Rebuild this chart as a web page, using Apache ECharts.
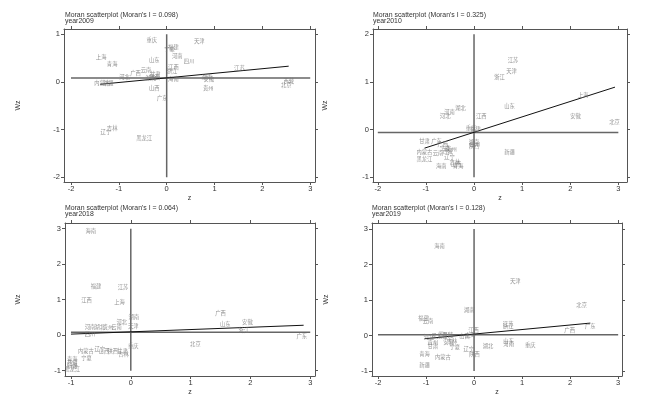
<!DOCTYPE html>
<html><head><meta charset="utf-8">
<script src="https://cdn.jsdelivr.net/npm/echarts@6/dist/echarts.min.js"></script>
<style>html,body{margin:0;padding:0;background:#fff}#c{width:650px;height:413px}</style>
</head><body><div id="c"></div>
<script>
// ---- 2009 ----
const names2009 = ["重庆","天津","福建","宁夏","河南","四川","山东","上海","青海","江西","云南","浙江","广西","河北","甘肃","湖北","陕西","海南","内蒙古","新疆","江苏","湖南","安徽","贵州","西藏","北京","山西","广东","吉林","辽宁","黑龙江"];
const z2009  = [-0.31,0.68,0.14,0.06,0.22,0.47,-0.26,-1.37,-1.14,0.14,-0.43,0.11,-0.65,-0.88,-0.24,-0.33,-0.25,0.14,-1.35,-1.22,1.52,0.84,0.88,0.87,2.55,2.50,-0.26,-0.09,-1.14,-1.27,-0.47];
const wz2009 = [0.88,0.85,0.73,0.69,0.55,0.44,0.46,0.52,0.38,0.31,0.25,0.22,0.18,0.11,0.17,0.08,0.10,0.06,-0.02,-0.02,0.29,0.10,0.07,-0.12,0.02,-0.06,-0.13,-0.34,-0.97,-1.06,-1.18];
const mean2009 = 0.08;
const reg2009 = [[-1.39,-0.05],[2.55,0.33]];

// ---- 2010 ----
const names2010 = ["江苏","天津","浙江","上海","山东","安徽","北京","湖北","河南","河北","江西","重庆","福建","湖南","四川","陕西","新疆","甘肃","广东","广西","内蒙古","云南","宁夏","贵州","黑龙江","辽宁","海南","吉林","青海","山西","西藏"];
const z2010  = [0.81,0.78,0.53,2.27,0.74,2.11,2.92,-0.28,-0.51,-0.60,0.15,-0.06,0.03,0.00,0.02,0.00,0.74,-1.03,-0.78,-0.65,-1.03,-0.75,-0.61,-0.47,-1.03,-0.51,-0.68,-0.40,-0.33,-0.38,-0.55];
const wz2010 = [1.46,1.23,1.10,0.73,0.50,0.29,0.15,0.46,0.36,0.29,0.29,0.03,0.01,-0.26,-0.31,-0.35,-0.47,-0.25,-0.24,-0.30,-0.48,-0.50,-0.39,-0.41,-0.62,-0.58,-0.76,-0.69,-0.76,-0.72,-0.45];
const mean2010 = -0.06;
const reg2010 = [[-1.03,-0.39],[2.93,0.89]];

// ---- 2018 ----
const names2018 = ["海南","福建","江苏","江西","上海","湖南","河北","天津","河南","湖北","贵州","云南","广西","山东","安徽","浙江","广东","北京","重庆","内蒙古","辽宁","山西","陕西","甘肃","吉林","宁夏","青海","西藏","新疆","黑龙江","四川"];
const z2018  = [-0.67,-0.58,-0.13,-0.74,-0.19,0.05,-0.15,0.04,-0.68,-0.52,-0.38,-0.24,1.50,1.58,1.95,1.89,2.86,1.08,0.04,-0.75,-0.52,-0.45,-0.30,-0.14,-0.12,-0.74,-0.98,-0.98,-0.98,-0.98,-0.68];
const wz2018 = [2.94,1.39,1.37,0.99,0.94,0.50,0.36,0.26,0.22,0.22,0.22,0.22,0.63,0.31,0.37,0.14,-0.01,-0.26,-0.31,-0.45,-0.38,-0.44,-0.44,-0.44,-0.53,-0.63,-0.68,-0.78,-0.88,-0.96,0.04];
const mean2018 = 0.08;
const reg2018 = [[-1.0,0.03],[2.89,0.28]];

// ---- 2019 ----
const names2019 = ["海南","天津","北京","湖南","福建","云南","江苏","浙江","广东","广西","江西","上海","河北","四川","山东","河南","湖北","重庆","贵州","甘肃","安徽","吉林","宁夏","辽宁","陕西","青海","内蒙古","新疆","山西","西藏","黑龙江"];
const z2019  = [-0.72,0.86,2.24,-0.10,-1.05,-0.96,0.71,0.71,2.42,1.99,-0.01,-0.08,-0.94,-0.63,0.72,0.72,0.29,1.17,-0.86,-0.86,-0.53,-0.46,-0.40,-0.11,0.01,-1.03,-0.65,-1.03,-0.20,-0.55,-0.72];
const wz2019 = [2.51,1.54,0.85,0.72,0.50,0.41,0.33,0.27,0.26,0.15,0.15,0.02,-0.03,0.04,-0.15,-0.25,-0.30,-0.28,-0.18,-0.30,-0.18,-0.14,-0.31,-0.37,-0.52,-0.53,-0.61,-0.82,0.00,0.02,0.00];
const mean2019 = 0.02;
const reg2019 = [[-1.03,-0.09],[2.42,0.35]];

// tick labels
const xTicksA = [-2,-1,0,1,2,3];
const xTicksB = [-1,0,1,2,3];
const yTicks2009 = [-2,-1,0,1];
const yTicks2010 = [-1,0,1,2];
const yTicksB = [-1,0,1,2,3];

const titles = ["Moran scatterplot (Moran's I = 0.098)\nyear2009","Moran scatterplot (Moran's I = 0.325)\nyear2010","Moran scatterplot (Moran's I = 0.064)\nyear2018","Moran scatterplot (Moran's I = 0.128)\nyear2019"];

const panels = [
  {names:names2009,z:z2009,wz:wz2009,mean:mean2009,reg:reg2009,xt:xTicksA,yt:yTicks2009,
   grid:{left:64,top:29,width:251,height:153},xr:[-2.146,3.10],yr:[-2.10,1.11],tl:65,tt:11.5,ylab:42},
  {names:names2010,z:z2010,wz:wz2010,mean:mean2010,reg:reg2010,xt:xTicksA,yt:yTicks2010,
   grid:{left:373,top:29,width:254,height:153},xr:[-2.10,3.18],yr:[-1.10,2.11],tl:373,tt:11.5,ylab:44},
  {names:names2018,z:z2018,wz:wz2018,mean:mean2018,reg:reg2018,xt:xTicksB,yt:yTicksB,
   grid:{left:65,top:223,width:250,height:153},xr:[-1.10,3.08],yr:[-1.15,3.16],tl:65,tt:204.5,ylab:43},
  {names:names2019,z:z2019,wz:wz2019,mean:mean2019,reg:reg2019,xt:xTicksA,yt:yTicksB,
   grid:{left:372,top:223,width:250,height:153},xr:[-2.125,3.08],yr:[-1.14,3.17],tl:372,tt:204.5,ylab:42}
];

const axisCol = '#555';
const option = {animation:false, backgroundColor:'#fff', grid:[], xAxis:[], yAxis:[], series:[], title:[]};
panels.forEach((p,i)=>{
  option.grid.push(Object.assign({containLabel:false},p.grid));
  option.title.push({text:titles[i], left:p.tl, top:p.tt, padding:0,
    textStyle:{fontSize:6.9, lineHeight:6.6, fontWeight:'normal', color:'#333', fontFamily:'Liberation Sans'}});
  const xb = {type:'value', gridIndex:i, min:p.xr[0], max:p.xr[1], position:'bottom',
    axisLine:{show:true,onZero:false,lineStyle:{color:axisCol,width:1}},
    axisTick:{show:true,customValues:p.xt,length:3,lineStyle:{color:axisCol}},
    axisLabel:{show:true,customValues:p.xt,fontSize:7.5,color:'#333',margin:3,fontFamily:'Liberation Sans'},
    splitLine:{show:false}, name:'z', nameLocation:'middle', nameGap:13,
    nameTextStyle:{fontSize:7,color:'#333',fontFamily:'Liberation Sans'}};
  const xt = {type:'value', gridIndex:i, min:p.xr[0], max:p.xr[1], position:'top',
    axisLine:{show:true,onZero:false,lineStyle:{color:axisCol,width:1}},
    axisTick:{show:true,customValues:p.xt,length:3,lineStyle:{color:axisCol}},
    axisLabel:{show:false,customValues:p.xt}, splitLine:{show:false}};
  const yl = {type:'value', gridIndex:i, min:p.yr[0], max:p.yr[1], position:'left',
    axisLine:{show:true,onZero:false,lineStyle:{color:axisCol,width:1}},
    axisTick:{show:true,customValues:p.yt,length:3,lineStyle:{color:axisCol}},
    axisLabel:{show:true,customValues:p.yt,fontSize:7.5,color:'#333',margin:4,fontFamily:'Liberation Sans'},
    splitLine:{show:false}, name:'Wz', nameLocation:'middle', nameGap:p.ylab,
    nameTextStyle:{fontSize:7,color:'#333',fontFamily:'Liberation Sans'}};
  const yr = {type:'value', gridIndex:i, min:p.yr[0], max:p.yr[1], position:'right',
    axisLine:{show:true,onZero:false,lineStyle:{color:axisCol,width:1}},
    axisTick:{show:true,customValues:p.yt,length:3,lineStyle:{color:axisCol}},
    axisLabel:{show:false,customValues:p.yt}, splitLine:{show:false}};
  option.xAxis.push(xb, xt);
  option.yAxis.push(yl, yr);
  const xi = 2*i, yi = 2*i;
  const xt0 = p.xt[0], xt1 = p.xt[p.xt.length-1];
  const yt0 = p.yt[0], yt1 = p.yt[p.yt.length-1];
  option.series.push({type:'line', xAxisIndex:xi, yAxisIndex:yi, silent:true, symbol:'none',
    data:[[xt0,p.mean],[xt1,p.mean]], lineStyle:{color:'#666',width:1.5}, z:1});
  option.series.push({type:'line', xAxisIndex:xi, yAxisIndex:yi, silent:true, symbol:'none',
    data:[[0,yt0],[0,yt1]], lineStyle:{color:'#666',width:1.5}, z:1});
  option.series.push({type:'line', xAxisIndex:xi, yAxisIndex:yi, silent:true, symbol:'none',
    data:p.reg, lineStyle:{color:'#111',width:1}, z:2});
  option.series.push({type:'scatter', xAxisIndex:xi, yAxisIndex:yi, silent:true,
    symbolSize:1, itemStyle:{color:'rgba(0,0,0,0)'},
    data:p.names.map((n,k)=>({name:n, value:[p.z[k],p.wz[k]]})),
    label:{show:true, position:'inside', formatter:'{b}', fontSize:5.3, color:'#777',
      fontFamily:'Noto Sans CJK SC'}, z:3});
});
const chart = echarts.init(document.getElementById('c'), null, {renderer:'canvas'});
chart.setOption(option);
</script></body></html>
